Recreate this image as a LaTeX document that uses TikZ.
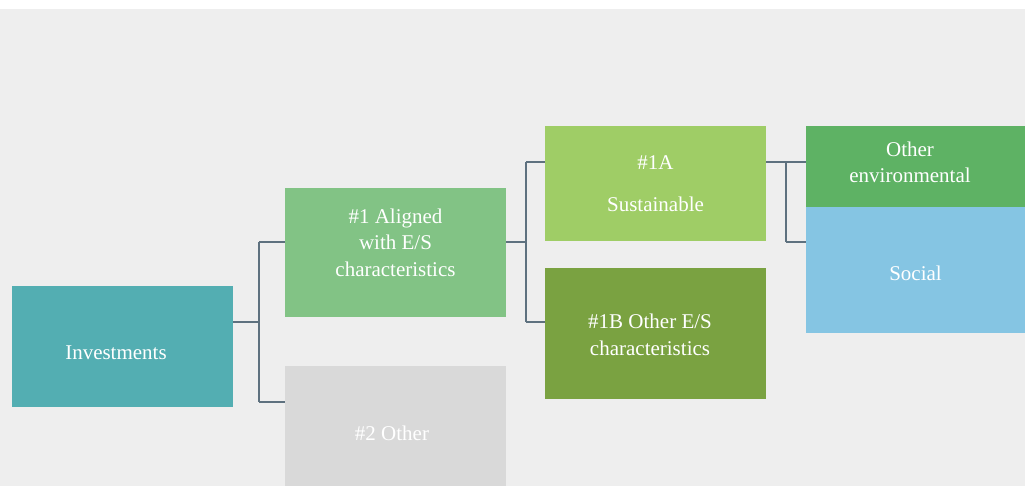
\documentclass[tikz,border=0pt]{standalone}
\usepackage{fontspec}
\setmainfont{Liberation Serif}
\begin{document}
\begin{tikzpicture}[x=1pt,y=-1pt,
  box/.style={draw=none, inner sep=0pt, outer sep=0pt, minimum width=221pt},
  lbl/.style={text=white, align=center, font=\fontsize{21}{26.5}\selectfont, inner sep=0pt},
  conn/.style={draw={rgb,255:red,94;green,113;blue,127}, line width=1.6pt}]
\definecolor{bg}{HTML}{EEEEEE}
\definecolor{cInv}{HTML}{53AEB2}
\definecolor{cOne}{HTML}{82C385}
\definecolor{cTwo}{HTML}{D9D9D9}
\definecolor{cOneA}{HTML}{9FCD66}
\definecolor{cOneB}{HTML}{7AA241}
\definecolor{cEnv}{HTML}{5EB264}
\definecolor{cSoc}{HTML}{85C5E3}
\useasboundingbox (0,0) rectangle (1025,486);
\fill[white] (0,0) rectangle (1025,486);
\fill[bg] (0,9) rectangle (1025,486);
% boxes
\node[box, fill=cInv, minimum height=121pt] (inv) at (122.5,346.5) {};
\node[box, fill=cOne, minimum height=129pt] (one) at (395.5,252.5) {};
\node[box, fill=cTwo, minimum height=120pt] (two) at (395.5,426) {};
\node[box, fill=cOneA, minimum height=115pt] (oneA) at (655.5,183.5) {};
\node[box, fill=cOneB, minimum height=131pt] (oneB) at (655.5,333.5) {};
\node[box, fill=cEnv, minimum width=219pt, minimum height=81pt] (env) at (915.5,166.5) {};
\node[box, fill=cSoc, minimum width=219pt, minimum height=126pt] (soc) at (915.5,270) {};
% labels
\node[lbl] (tInv) at (116,353) {Investments};
\node[lbl] (tOne) at (395.5,242.5) {\#1 Aligned\\with E/S\\characteristics};
\node[lbl] (tTwo) at (392,433) {\#2 Other};
\node[lbl] (tOneA1) at (655.5,163) {\#1A};
\node[lbl] (tOneA2) at (655.5,204) {Sustainable};
\node[lbl] (tOneB) at (650,335) {\#1B Other E/S\\characteristics};
\node[lbl] (tEnv) at (910,162.5) {Other\\environmental};
\node[lbl] (tSoc) at (915.5,273) {Social};
% connectors
\coordinate (j1) at (259,322);
\coordinate (j1t) at (259,242);
\coordinate (j1b) at (259,402);
\draw[conn] (inv.east |- j1) -- (j1);
\draw[conn] (j1t) -- (j1b);
\draw[conn] (j1t) -- (one.west |- j1t);
\draw[conn] (j1b) -- (two.west |- j1b);
\coordinate (j2) at (526,242);
\coordinate (j2t) at (526,162);
\coordinate (j2b) at (526,322);
\draw[conn] (one.east |- j2) -- (j2);
\draw[conn] (j2t) -- (j2b);
\draw[conn] (j2t) -- (oneA.west |- j2t);
\draw[conn] (j2b) -- (oneB.west |- j2b);
\coordinate (j3t) at (786,162);
\coordinate (j3b) at (786,242);
\draw[conn] (oneA.east |- j3t) -- (env.west |- j3t);
\draw[conn] (j3t) -- (j3b);
\draw[conn] (j3b) -- (soc.west |- j3b);
\end{tikzpicture}
\end{document}
